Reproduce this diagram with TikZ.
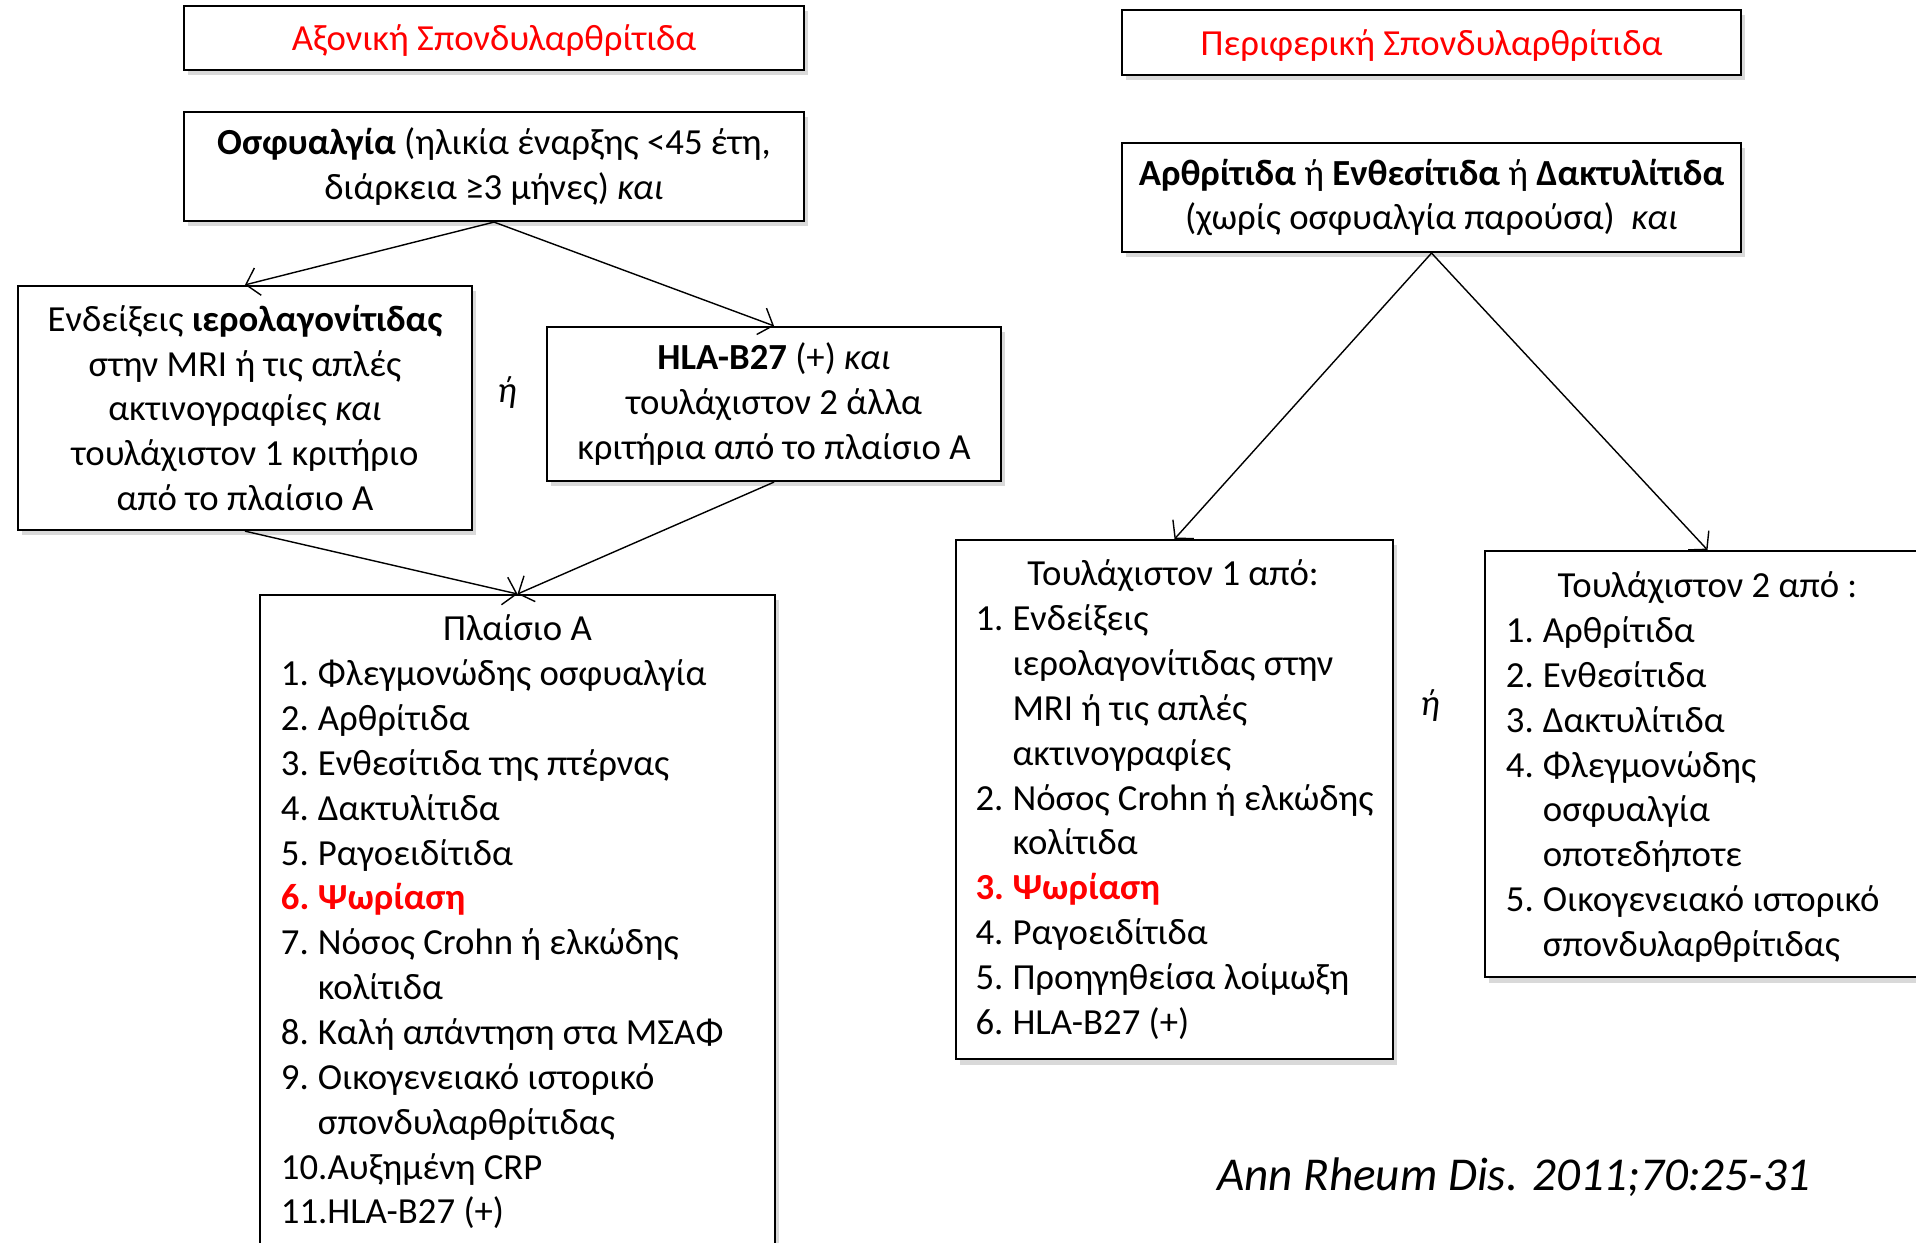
\documentclass[tikz,border=0pt]{standalone}
\usepackage{fontspec}
\setmainfont{Carlito}
\usepackage{tikz}
\usetikzlibrary{arrows.meta,shadows}
\definecolor{titlered}{RGB}{255,0,0}
\newcommand{\itm}[2]{\makebox[0.37cm][l]{#1}#2}
\newcommand{\cont}{\hspace*{0.37cm}}

\begin{document}
\begin{tikzpicture}[x=0.01cm,y=-0.01cm,
		font=\fontsize{10.45pt}{12.75pt}\selectfont,
		box/.style={draw,line width=0.6pt,fill=white,align=center,inner sep=0pt,
			drop shadow={shadow xshift=1.2pt,shadow yshift=-1.5pt,opacity=0.3}},
		titlebox/.style={box,minimum width=6.2cm,minimum height=0.64cm,text=titlered,text depth=0pt},
		listbox/.style={box,align=left,inner xsep=0pt,inner ysep=0.2cm},
		arr/.style={-{Straight Barb[length=3.5pt,width=8pt]},line width=0.4pt}]
		\useasboundingbox (0,0) rectangle (1916,1243);
		\node[titlebox] (tax) at (494,38) {Αξονική Σπονδυλαρθρίτιδα};
		\node[box,minimum width=6.2cm,minimum height=1.09cm] (osf) at (494,166.5) {\textbf{Οσφυαλγία} (ηλικία έναρξης <45 έτη,\\ διάρκεια ≥3 μήνες) \textit{και}};
		\node[box,minimum width=4.54cm,minimum height=2.44cm] (sacro) at (245,408) {Ενδείξεις \textbf{ιερολαγονίτιδας}\\ στην MRI ή τις απλές\\ ακτινογραφίες \textit{και}\\ τουλάχιστον 1 κριτήριο\\ από το πλαίσιο Α};
		\node[box,minimum width=4.54cm,minimum height=1.54cm] (hla) at (774,404) {\textbf{HLA-B27} (+) \textit{και}\\ τουλάχιστον 2 άλλα\\ κριτήρια από το πλαίσιο Α};
		\node (ora) at (507,393) {\textit{ή}};
		\node[listbox,anchor=north,minimum width=5.15cm] (plaisio) at (517.5,594) {\makebox[4.73cm]{Πλαίσιο Α}\\
			\itm{1.}{Φλεγμονώδης οσφυαλγία}\\
			\itm{2.}{Αρθρίτιδα}\\
			\itm{3.}{Ενθεσίτιδα της πτέρνας}\\
			\itm{4.}{Δακτυλίτιδα}\\
			\itm{5.}{Ραγοειδίτιδα}\\
			\textcolor{titlered}{\bfseries\itm{6.}{Ψωρίαση}}\\
			\itm{7.}{Νόσος Crohn ή ελκώδης}\\
			\cont κολίτιδα\\
			\itm{8.}{Καλή απάντηση στα ΜΣΑΦ}\\
			\itm{9.}{Οικογενειακό ιστορικό}\\
			\cont σπονδυλαρθρίτιδας\\
			10.Αυξημένη CRP\\
			11.HLA-B27 (+)\\[1.5cm]\mbox{}};
		\node[titlebox,minimum width=6.19cm,minimum height=0.65cm] (tper) at (1431.5,42.5) {Περιφερική Σπονδυλαρθρίτιδα};
		\node[box,minimum width=6.19cm,minimum height=1.09cm] (arth) at (1431.5,197.5) {\textbf{Αρθρίτιδα} ή \textbf{Ενθεσίτιδα} ή \textbf{Δακτυλίτιδα}\\ (χωρίς οσφυαλγία παρούσα)\ \ \textit{και}};
		\node[listbox,anchor=north,minimum width=4.37cm,minimum height=5.17cm] (one) at (1174.5,539) {\makebox[3.95cm]{Τουλάχιστον 1 από:}\\
			\itm{1.}{Ενδείξεις}\\
			\cont ιερολαγονίτιδας στην\\
			\cont MRI ή τις απλές\\
			\cont ακτινογραφίες\\
			\itm{2.}{Νόσος Crohn ή ελκώδης}\\
			\cont κολίτιδα\\
			\textcolor{titlered}{\bfseries\itm{3.}{Ψωρίαση}}\\
			\itm{4.}{Ραγοειδίτιδα}\\
			\itm{5.}{Προηγηθείσα λοίμωξη}\\
			\itm{6.}{HLA-B27 (+)}};
		\node[listbox,anchor=north,minimum width=4.45cm,minimum height=4.26cm,text depth=0pt] (two) at (1707.5,550) {\makebox[4.03cm]{Τουλάχιστον 2 από :}\\
			\itm{1.}{Αρθρίτιδα}\\
			\itm{2.}{Ενθεσίτιδα}\\
			\itm{3.}{Δακτυλίτιδα}\\
			\itm{4.}{Φλεγμονώδης}\\
			\cont οσφυαλγία\\
			\cont οποτεδήποτε\\
			\itm{5.}{Οικογενειακό ιστορικό}\\
			\cont σπονδυλαρθρίτιδας};
		\node (orp) at (1430,706) {\textit{ή}};
		\node[font=\fontsize{13.4pt}{16pt}\selectfont\itshape] (cite) at (1514,1177) {Ann Rheum Dis. 2011;70:25-31};
		\draw[arr] (osf.south) -- (sacro.north);
		\draw[arr] (osf.south) -- (hla.north);
		\draw[arr] (sacro.south) -- (plaisio.north);
		\draw[arr] (hla.south) -- (plaisio.north);
		\draw[arr] (arth.south) -- (one.north);
		\draw[arr] (arth.south) -- (two.north);
	\end{tikzpicture}
\end{document}
